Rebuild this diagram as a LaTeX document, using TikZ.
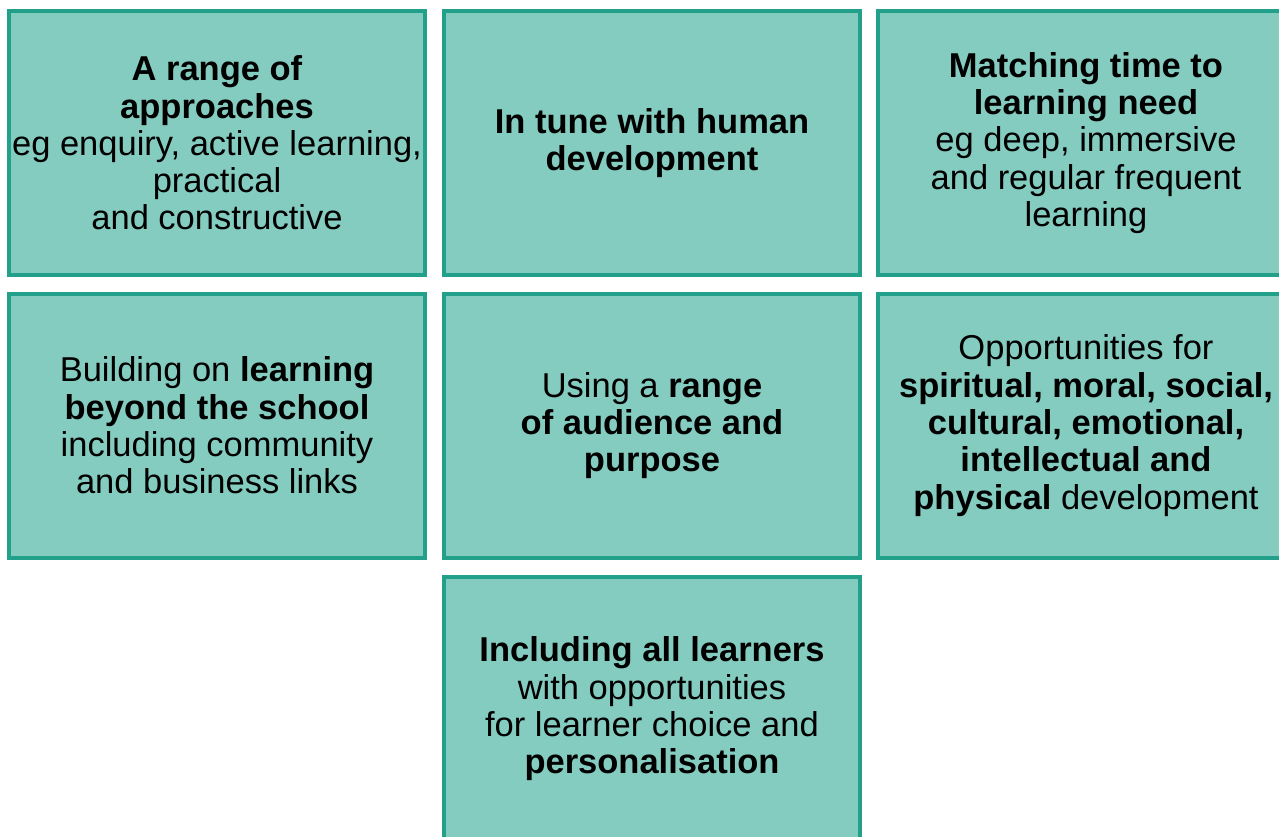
\documentclass[tikz,border=0pt]{standalone}
\usepackage{fontspec}
\setmainfont{Liberation Sans}
\definecolor{boxfill}{HTML}{84CBC0}
\definecolor{boxline}{HTML}{23A08A}
\begin{document}
\begin{tikzpicture}[x=1pt,y=-1pt,
  card/.style={draw=boxline, fill=boxfill, line width=4pt, minimum width=416pt, minimum height=264pt,
    inner sep=0pt, align=center, font=\fontsize{34.5}{37.3}\selectfont, text=black}]
\useasboundingbox (0,0) rectangle (1279,837);
\clip (0,0) rectangle (1279,837);
\node[card] (a) at (217,143) {\textbf{A range of}\\\textbf{approaches}\\eg enquiry, active learning,\\practical\\and constructive};
\node[card] (b) at (652,143) {\textbf{In tune with human}\\\textbf{development}};
\node[card] (c) at (1086,143) {\textbf{Matching time to}\\\textbf{learning need}\\eg deep, immersive\\and regular frequent\\learning};
\node[card] (d) at (217,425.5) {Building on \textbf{learning}\\\textbf{beyond the school}\\including community\\and business links};
\node[card] (e) at (652,425.5) {Using a \textbf{range}\\\textbf{of audience and}\\\textbf{purpose}};
\node[card] (f) at (1086,425.5) {Opportunities for\\\textbf{spiritual, moral, social,}\\\textbf{cultural, emotional,}\\\textbf{intellectual and}\\\textbf{physical} development};
\node[card] (g) at (652,709) {\textbf{Including all learners}\\with opportunities\\for learner choice and\\\textbf{personalisation}};
\end{tikzpicture}
\end{document}
